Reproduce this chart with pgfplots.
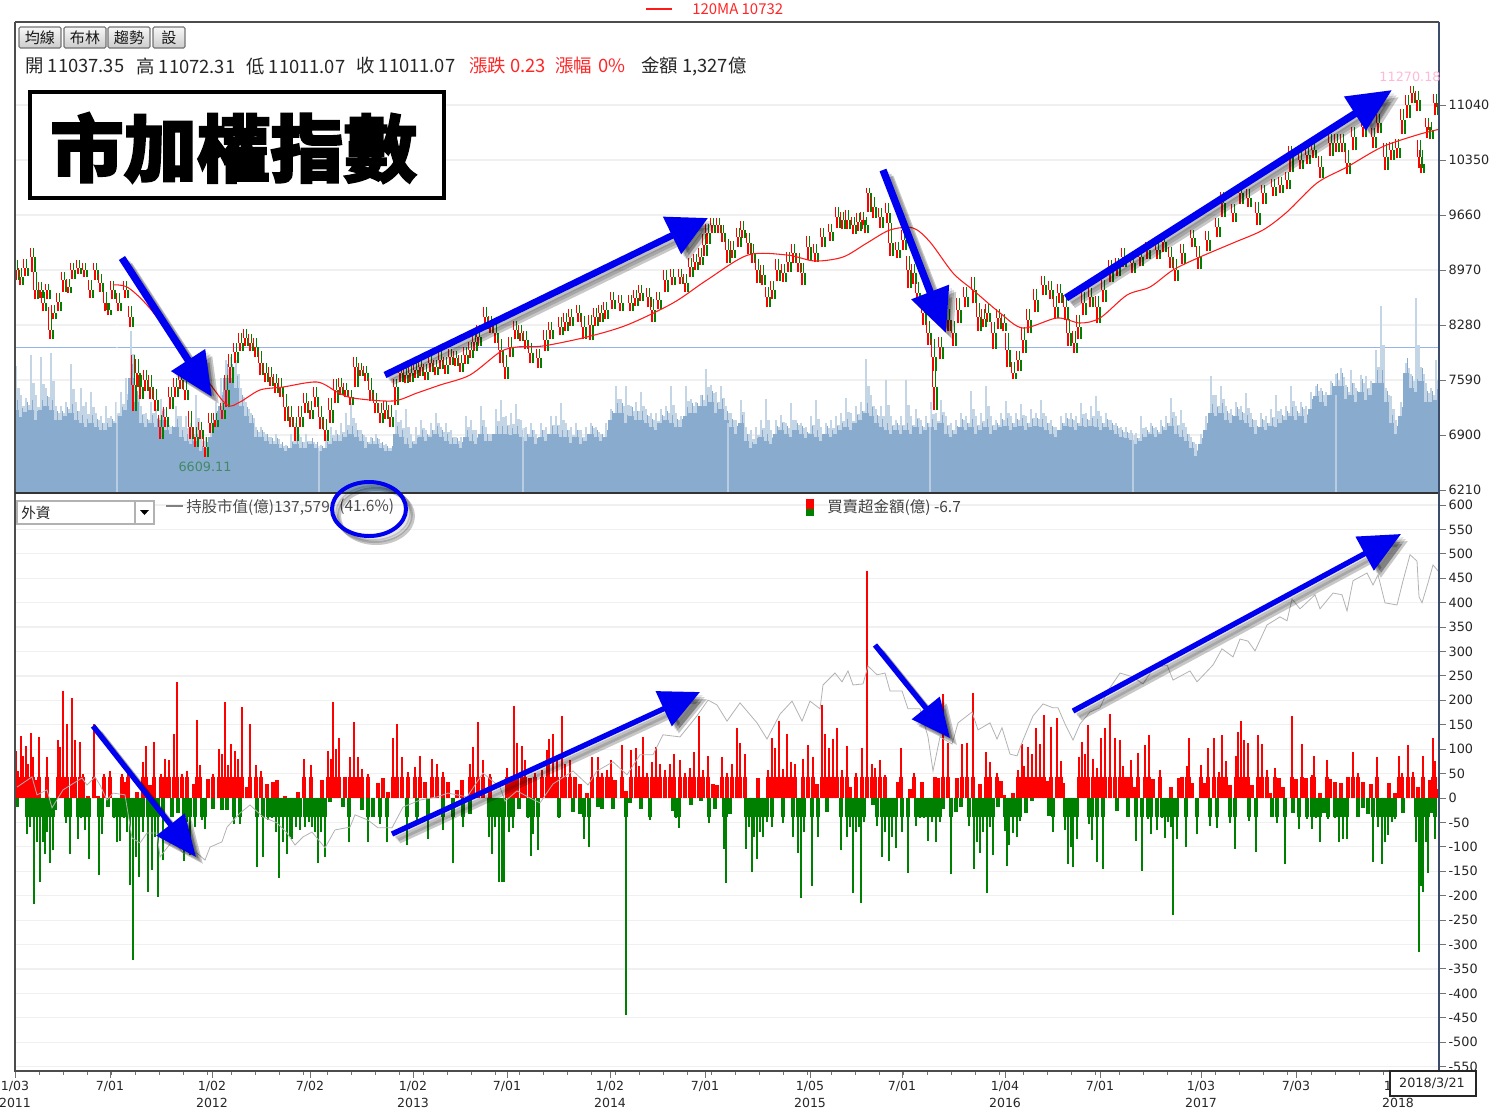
\documentclass[border=0pt]{standalone}
\usepackage{fontspec}
\usepackage{pgfplots}
\usepackage{pgfplotstable}
\pgfplotsset{compat=1.18}
\usetikzlibrary{arrows.meta,shadings}
\setmainfont{DejaVu Sans}
\newfontfamily\cjk{Noto Sans CJK TC}
\newfontfamily\cjkt[BoldFeatures={FakeBold=2.5}]{Noto Sans CJK TC}
\definecolor{gridc}{RGB}{240,240,240}
\definecolor{volcore}{RGB}{137,172,206}
\definecolor{volspike}{RGB}{196,214,230}
\definecolor{upred}{RGB}{255,0,0}
\definecolor{downgreen}{RGB}{0,128,0}
\definecolor{marrow}{RGB}{0,0,240}
\definecolor{navyaxis}{RGB}{60,76,108}
\definecolor{refline}{RGB}{150,180,235}
\definecolor{peakpink}{RGB}{255,185,215}

% price candles: x, low, mid, high
\pgfplotstableread[row sep=\\]{
x lo mid hi\\
16 8850 8970 9090\\ 20 8780 8880 8990\\ 25 8900 9000 9110\\ 32 8950 9130 9240\\ 35 8600 8720 8950\\ 40 8620 8720 8820\\ 43 8450 8560 8700\\ 47 8600 8720 8800\\
50 8100 8220 8500\\ 53 8350 8430 8530\\ 58 8450 8570 8680\\ 63 8700 8850 8950\\ 68 8680 8760 8860\\ 72 8860 8970 9060\\ 78 8920 9000 9090\\ 84 8880 8970 9060\\
90 8620 8720 8850\\ 95 8850 8970 9060\\ 100 8700 8810 8920\\ 105 8450 8560 8700\\ 108 8400 8470 8560\\ 112 8600 8720 8830\\ 118 8450 8560 8680\\ 125 8620 8720 8830\\
130 8250 8380 8520\\ 133 7200 7530 7900\\ 137 7500 7680 7850\\ 140 7350 7500 7650\\ 145 7450 7590 7720\\ 150 7350 7500 7650\\ 155 7200 7340 7480\\ 160 6850 7000 7150\\
165 7000 7130 7250\\ 170 7230 7380 7500\\ 175 7380 7500 7620\\ 180 7480 7590 7700\\ 185 7340 7470 7580\\ 190 6850 7000 7200\\ 195 6750 6880 7000\\ 200 6850 6960 7060\\
205 6620 6750 6880\\ 210 6920 7050 7170\\ 215 7000 7090 7180\\ 222 7100 7210 7300\\ 226 7250 7470 7650\\ 230 7550 7750 7920\\ 235 7800 7940 8060\\ 240 7950 8050 8180\\
245 8020 8120 8230\\ 250 7950 8050 8170\\ 255 7880 8000 8120\\ 260 7650 7800 7960\\ 265 7560 7680 7800\\ 270 7520 7630 7750\\ 275 7430 7550 7660\\ 280 7380 7500 7620\\
285 7080 7250 7420\\ 290 7000 7130 7260\\ 295 6830 7000 7120\\ 300 7000 7130 7260\\ 305 7180 7300 7430\\ 310 7100 7210 7330\\ 315 7250 7380 7500\\ 320 6980 7130 7270\\
325 6820 6960 7100\\ 330 7050 7210 7370\\ 335 7300 7470 7600\\ 340 7400 7500 7610\\ 345 7380 7470 7550\\ 350 7280 7380 7460\\ 355 7500 7750 7880\\ 360 7640 7720 7800\\
365 7580 7680 7770\\ 370 7330 7470 7610\\ 375 7170 7300 7430\\ 380 7050 7180 7300\\ 385 7100 7210 7330\\ 390 7000 7130 7280\\ 395 7280 7500 7600\\ 400 7560 7680 7770\\
405 7550 7650 7750\\ 410 7570 7680 7780\\ 415 7620 7720 7810\\ 420 7640 7750 7850\\ 425 7590 7690 7790\\ 430 7690 7800 7900\\ 435 7650 7750 7840\\ 440 7730 7840 7950\\
445 7670 7780 7880\\ 450 7780 7880 7980\\ 455 7760 7860 7960\\ 460 7690 7800 7900\\ 465 7790 7900 8010\\ 470 7860 7970 8070\\ 474 7960 8070 8170\\ 478 8020 8130 8280\\
485 8230 8380 8500\\ 490 8180 8280 8390\\ 495 8050 8180 8300\\ 500 7800 7970 8100\\ 505 7600 7750 7900\\ 510 7880 8000 8130\\ 515 8100 8220 8330\\ 520 8080 8180 8280\\
525 7980 8090 8200\\ 530 7800 7930 8050\\ 538 7740 7870 7980\\ 545 7950 8090 8220\\ 550 8100 8220 8320\\ 560 8150 8260 8380\\ 565 8210 8320 8430\\ 570 8270 8380 8480\\
578 8320 8430 8530\\ 583 8100 8260 8390\\ 590 8090 8280 8400\\ 595 8270 8380 8490\\ 600 8320 8430 8530\\ 605 8360 8470 8570\\ 612 8480 8590 8700\\ 620 8450 8560 8660\\
630 8460 8560 8660\\ 635 8520 8620 8720\\ 640 8580 8680 8780\\ 648 8500 8630 8740\\ 652 8320 8470 8600\\ 658 8480 8590 8700\\ 665 8700 8850 8970\\ 672 8780 8880 8980\\
680 8790 8880 8980\\ 685 8700 8810 8920\\ 690 8880 9010 9120\\ 695 8970 9070 9170\\ 700 9030 9130 9240\\ 704 9150 9280 9420\\ 707 9300 9430 9550\\ 712 9430 9530 9620\\
718 9440 9530 9620\\ 722 9320 9430 9540\\ 727 9060 9220 9360\\ 732 9120 9220 9330\\ 738 9260 9380 9500\\ 742 9370 9470 9580\\ 748 9170 9310 9430\\ 752 9060 9180 9300\\
757 8810 8970 9110\\ 762 8780 8910 9030\\ 767 8500 8630 8760\\ 772 8600 8720 8830\\ 777 8830 8970 9110\\ 783 8820 8930 9050\\ 788 8950 9070 9190\\ 793 9060 9180 9300\\
798 8950 9060 9180\\ 802 8780 8930 9060\\ 808 9100 9260 9400\\ 815 9070 9180 9300\\ 822 9260 9380 9500\\ 830 9340 9450 9550\\ 837 9500 9630 9760\\ 842 9480 9600 9700\\
847 9490 9600 9720\\ 853 9420 9530 9640\\ 858 9460 9570 9680\\ 862 9490 9600 9700\\ 865 9430 9530 9640\\ 868 9700 9940 10000\\ 873 9620 9760 9880\\ 880 9500 9630 9750\\
887 9560 9690 9810\\ 890 9150 9310 9560\\ 897 9120 9220 9320\\ 903 9220 9350 9470\\ 908 8740 8970 9150\\ 913 8800 8930 9050\\ 917 8540 8680 8820\\ 923 8280 8430 8570\\
928 8030 8180 8330\\ 933 7700 7880 8100\\ 934 7214 7500 7700\\ 940 7850 8000 8130\\ 948 8200 8340 8480\\ 953 8020 8180 8330\\ 958 8300 8470 8620\\ 965 8500 8630 8760\\
973 8550 8720 8880\\ 978 8200 8380 8560\\ 983 8250 8360 8480\\ 987 8320 8430 8540\\ 993 7980 8180 8320\\ 998 8230 8370 8480\\ 1003 8200 8310 8420\\ 1007 7750 7970 8180\\
1013 7600 7680 7820\\ 1018 7700 7840 7960\\ 1023 7930 8090 8250\\ 1028 8180 8340 8480\\ 1035 8440 8590 8730\\ 1043 8660 8780 8900\\ 1050 8600 8720 8830\\ 1055 8370 8510 8640\\
1059 8560 8680 8800\\ 1065 8340 8510 8660\\ 1068 8020 8180 8360\\ 1074 7930 8050 8200\\ 1078 8100 8260 8400\\ 1083 8400 8560 8700\\ 1090 8500 8630 8750\\ 1097 8300 8510 8650\\
1103 8570 8720 8850\\ 1110 8820 8970 9100\\ 1117 8890 9010 9120\\ 1123 9010 9130 9240\\ 1132 8930 9060 9170\\ 1140 9020 9130 9240\\ 1147 9110 9220 9320\\ 1157 9110 9220 9330\\
1163 9190 9320 9430\\ 1170 8990 9130 9260\\ 1175 8830 8970 9110\\ 1182 9050 9180 9300\\ 1192 9260 9370 9470\\ 1198 8980 9130 9270\\ 1207 9210 9350 9460\\ 1217 9390 9510 9620\\
1222 9640 9810 9950\\ 1233 9570 9690 9800\\ 1240 9800 9940 10050\\ 1248 9760 9870 9980\\ 1257 9540 9690 9820\\ 1263 9800 9940 10040\\ 1273 9900 10010 10110\\ 1280 9930 10040 10140\\
1287 9980 10100 10200\\ 1290 10200 10390 10520\\ 1300 10240 10350 10450\\ 1307 10300 10410 10520\\ 1313 10370 10480 10590\\ 1320 10130 10260 10400\\ 1330 10400 10560 10680\\ 1336 10450 10560 10670\\
1342 10450 10560 10670\\ 1347 10170 10310 10470\\ 1353 10470 10640 10770\\ 1363 10640 10760 10880\\ 1373 10500 10640 10750\\ 1378 10690 10810 10930\\ 1385 10230 10390 10560\\ 1391 10350 10470 10580\\
1397 10380 10500 10610\\ 1402 10680 10850 10990\\ 1407 10880 11040 11160\\ 1412 11060 11190 11280\\ 1417 10970 11100 11210\\ 1419 10250 10390 10600\\ 1421 10190 10300 10480\\ 1427 10620 10760 10880\\
1430 10610 10730 10830\\ 1435 10920 11070 11180\\ 1438 10950 11010 11070\\
}\candles

% 120-day moving average
\pgfplotstableread[row sep=\\]{
x ma\\
113 8782\\ 127 8757\\ 147 8531\\ 183 7966\\ 207 7590\\ 227 7276\\ 240 7314\\ 260 7465\\ 283 7502\\ 317 7565\\ 337 7440\\ 353 7364\\ 393 7327\\ 417 7427\\ 440 7527\\ 470 7653\\ 500 7941\\ 517 8004\\ 543 8017\\ 587 8130\\ 627 8280\\ 673 8556\\ 707 8845\\ 748 9158\\ 787 9158\\ 815 9083\\ 843 9133\\ 867 9309\\ 890 9472\\ 913 9497\\ 930 9321\\ 953 8932\\ 973 8719\\ 1000 8431\\ 1023 8242\\ 1057 8368\\ 1080 8305\\ 1100 8368\\ 1127 8656\\ 1150 8757\\ 1173 8970\\ 1200 9133\\ 1233 9309\\ 1263 9472\\ 1287 9698\\ 1317 10062\\ 1347 10262\\ 1382 10513\\ 1417 10664\\ 1438 10732\\
}\matable

% turnover: x, dense body, top of the spike
\pgfplotstableread[row sep=\\]{
x core top\\
16 1190 1820\\ 21 1080 1400\\ 26 1160 1360\\ 31 1190 1970\\ 36 1050 1400\\ 41 1190 1940\\ 46 1240 1500\\ 51 1190 2000\\ 56 1050 1250\\ 61 1050 1250\\ 66 1100 1300\\ 71 1140 1840\\ 76 1050 1300\\ 81 1000 1500\\ 86 950 1300\\ 91 1000 1450\\ 96 950 1150\\ 101 900 1100\\ 106 900 1250\\ 111 950 1100\\ 116 1000 1300\\ 121 1100 1450\\ 126 1190 1650\\ 131 1650 2320\\ 136 1300 1500\\ 141 1000 1250\\ 146 950 1150\\ 151 1000 1300\\ 156 950 1200\\ 161 1050 1350\\ 166 900 1050\\ 171 850 950\\ 176 950 1250\\ 181 800 1100\\ 186 750 1100\\ 191 700 1000\\ 196 750 1400\\ 201 600 900\\ 206 650 800\\ 211 800 1000\\ 216 1050 1300\\ 221 1250 1650\\ 226 1650 1900\\ 231 1650 1950\\ 236 1500 1900\\ 241 1250 1500\\ 246 1100 1300\\ 251 1000 1150\\ 256 800 950\\ 261 800 950\\ 266 750 850\\ 271 700 800\\ 276 700 850\\ 281 650 700\\ 286 600 680\\ 291 650 850\\ 296 700 1000\\ 301 650 800\\ 306 650 850\\ 311 700 750\\ 316 650 700\\ 321 600 680\\ 326 650 850\\ 331 700 950\\ 336 750 900\\ 341 750 1000\\ 346 800 1150\\ 351 850 1290\\ 356 800 1000\\ 361 750 900\\ 366 650 800\\ 371 700 800\\ 376 700 850\\ 381 650 720\\ 386 600 700\\ 391 600 650\\ 396 850 1180\\ 401 800 1050\\ 406 700 1200\\ 411 650 850\\ 416 700 950\\ 421 800 1050\\ 426 750 900\\ 431 800 1000\\ 436 850 1150\\ 441 800 950\\ 446 750 1000\\ 451 700 900\\ 456 700 800\\ 461 650 800\\ 466 800 1100\\ 471 750 1050\\ 476 700 900\\ 481 850 1250\\ 486 750 950\\ 491 750 850\\ 496 850 1200\\
501 850 1330\\ 506 850 1100\\ 511 830 1150\\ 516 850 1270\\ 521 800 1050\\ 526 750 950\\ 531 800 1000\\ 536 700 850\\ 541 800 1000\\ 546 750 950\\ 551 850 1100\\ 556 850 1100\\ 561 800 1290\\ 566 800 1000\\ 571 720 950\\ 576 800 1000\\ 581 700 900\\ 586 750 950\\ 591 850 1000\\ 596 800 950\\ 601 750 850\\ 606 800 1000\\ 611 1050 1200\\ 616 1150 1530\\ 621 1150 1350\\ 626 1000 1530\\ 631 1100 1250\\ 636 1050 1300\\ 641 1050 1450\\ 646 1000 1200\\ 651 950 1150\\ 656 900 1150\\ 661 1000 1200\\ 666 1050 1250\\ 671 1000 1530\\ 676 950 1150\\ 681 950 1100\\ 686 1100 1530\\ 691 1150 1350\\ 696 1150 1300\\ 701 1250 1400\\ 706 1250 1770\\ 711 1300 1550\\ 716 1150 1450\\ 721 1200 1530\\ 726 1050 1250\\ 731 950 1150\\ 736 850 1050\\ 741 1000 1330\\ 746 750 950\\ 751 650 900\\ 756 700 950\\ 761 800 1050\\ 766 750 1350\\ 771 700 900\\ 776 850 1050\\ 781 900 1120\\ 786 850 1000\\ 791 800 1290\\ 796 900 1050\\ 801 850 1000\\ 806 780 950\\ 811 850 1100\\ 816 800 1330\\ 821 750 950\\ 826 850 1000\\ 831 800 1050\\ 836 850 1100\\ 841 900 1150\\ 846 950 1360\\ 851 900 1150\\ 856 1000 1250\\ 861 1050 1300\\ 866 1150 1920\\ 871 1100 1400\\ 876 1000 1200\\ 881 950 1250\\ 886 900 1620\\ 891 850 1100\\ 896 900 1050\\ 901 850 1100\\ 906 900 1620\\ 911 850 1100\\ 916 950 1200\\ 921 850 1050\\ 926 900 1100\\ 931 950 1300\\ 936 900 1150\\ 941 1000 1330\\ 946 850 1100\\ 951 800 1000\\ 956 850 1050\\ 961 950 1150\\ 966 900 1100\\ 971 950 1460\\ 976 850 1100\\ 981 900 1150\\ 986 950 1530\\ 991 850 1100\\ 996 900 1050\\
1001 950 1150\\ 1006 960 1320\\ 1011 900 1100\\ 1016 950 1150\\ 1021 960 1270\\ 1026 900 1100\\ 1031 950 1200\\ 1036 960 1150\\ 1041 950 1330\\ 1046 900 1100\\ 1051 850 1050\\ 1056 800 950\\ 1061 900 1100\\ 1066 960 1150\\ 1071 950 1150\\ 1076 900 1100\\ 1081 960 1290\\ 1086 950 1150\\ 1091 960 1250\\ 1096 950 1390\\ 1101 900 1100\\ 1106 950 1140\\ 1111 900 1050\\ 1116 850 1000\\ 1121 800 950\\ 1126 780 950\\ 1131 760 900\\ 1136 700 860\\ 1141 750 1100\\ 1146 800 950\\ 1151 850 1000\\ 1156 800 950\\ 1161 850 1050\\ 1166 900 1100\\ 1171 960 1360\\ 1176 850 1100\\ 1181 800 1190\\ 1186 750 950\\ 1191 650 800\\ 1196 530 700\\ 1201 700 850\\ 1206 900 1100\\ 1211 1140 1670\\ 1216 1100 1400\\ 1221 1150 1530\\ 1226 1050 1250\\ 1231 1000 1200\\ 1236 1100 1300\\ 1241 1040 1250\\ 1246 1000 1430\\ 1251 950 1150\\ 1256 850 1050\\ 1261 950 1150\\ 1266 900 1100\\ 1271 960 1200\\ 1276 950 1400\\ 1281 1000 1200\\ 1286 1050 1250\\ 1291 1100 1530\\ 1296 1050 1250\\ 1301 1100 1300\\ 1306 1000 1250\\ 1311 1200 1450\\ 1316 1390 1530\\ 1321 1300 1500\\ 1326 1250 1450\\ 1331 1400 1600\\ 1336 1530 1700\\ 1341 1530 1790\\ 1346 1350 1550\\ 1351 1400 1760\\ 1356 1300 1500\\ 1361 1450 1690\\ 1366 1330 1670\\ 1371 1400 1600\\ 1376 1570 2040\\ 1381 1570 2670\\ 1386 1300 1500\\ 1391 1000 1390\\ 1396 850 1050\\ 1401 1100 1300\\ 1406 1720 1860\\ 1411 1500 1700\\ 1416 1450 2790\\ 1421 1600 1800\\ 1426 1300 1570\\ 1431 1300 1500\\ 1436 1327 1900\\
}\voltable

% foreign net buy / sell
\pgfplotstableread[row sep=\\]{
x v\\
16 97\\ 18 56\\ 21 126\\ 23 87\\ 26 107\\ 28 70\\ 31 133\\ 33 84\\ 37 36\\ 39 125\\ 47 84\\ 58 118\\ 60 105\\ 63 220\\ 67 152\\ 72 205\\ 75 118\\ 80 114\\ 83 50\\ 88 5\\ 94 152\\ 98 5\\ 104 50\\ 110 56\\ 122 50\\ 125 33\\ 128 63\\ 137 12\\ 143 73\\ 146 107\\ 150 26\\ 154 114\\ 161 50\\ 165 80\\ 169 77\\ 174 131\\ 177 238\\ 182 50\\ 187 56\\ 194 29\\ 197 159\\ 200 67\\ 208 39\\ 213 50\\ 219 100\\ 222 90\\ 225 197\\ 228 67\\ 231 110\\ 235 97\\ 238 80\\ 242 186\\ 247 23\\ 250 152\\ 256 67\\ 261 56\\ 267 29\\ 273 33\\ 277 36\\ 285 5\\ 298 12\\ 304 80\\ 311 67\\ 322 36\\ 328 97\\ 331 80\\ 333 197\\ 336 100\\ 339 122\\ 345 43\\ 350 84\\ 354 156\\ 358 84\\ 362 60\\ 368 50\\ 378 31\\ 383 40\\ 388 12\\ 393 122\\ 397 152\\ 402 84\\ 408 53\\ 415 63\\ 420 85\\ 425 33\\ 432 80\\ 437 70\\ 443 53\\ 448 33\\ 457 16\\ 462 36\\ 470 70\\ 473 104\\ 478 156\\ 483 77\\ 490 50\\
507 62\\ 511 40\\ 514 189\\ 517 113\\ 522 106\\ 525 77\\ 530 40\\ 535 51\\ 542 58\\ 547 99\\ 549 121\\ 553 132\\ 557 80\\ 562 168\\ 565 69\\ 570 77\\ 575 44\\ 580 29\\ 587 11\\ 592 84\\ 598 84\\ 602 51\\ 607 58\\ 611 77\\ 615 37\\ 622 108\\ 626 15\\ 631 99\\ 636 102\\ 639 66\\ 643 124\\ 647 51\\ 652 73\\ 656 104\\ 660 69\\ 665 58\\ 670 69\\ 674 91\\ 680 77\\ 685 51\\ 690 62\\ 694 95\\ 699 168\\ 703 58\\ 708 86\\ 713 29\\ 717 26\\ 722 84\\ 727 51\\ 732 69\\ 737 143\\ 740 113\\ 745 91\\ 758 40\\ 768 58\\ 772 123\\ 775 102\\ 779 157\\ 783 60\\ 787 132\\ 791 73\\ 795 69\\ 803 80\\ 808 108\\ 813 84\\ 817 29\\ 822 190\\ 825 132\\ 829 102\\ 833 121\\ 837 143\\ 842 58\\ 847 106\\ 850 22\\ 856 51\\ 862 102\\ 867 464\\ 872 69\\ 875 62\\ 880 77\\ 885 47\\ 898 33\\ 901 102\\ 910 18\\ 914 51\\ 922 33\\ 935 42\\ 938 40\\ 943 213\\ 948 113\\ 957 40\\ 962 110\\ 967 113\\ 973 216\\ 980 29\\ 986 95\\ 990 73\\ 997 51\\
1001 34\\ 1004 6\\ 1013 10\\ 1018 58\\ 1022 111\\ 1024 66\\ 1028 105\\ 1032 91\\ 1036 144\\ 1040 111\\ 1044 170\\ 1048 34\\ 1051 146\\ 1057 164\\ 1061 75\\ 1063 30\\ 1079 83\\ 1082 114\\ 1085 91\\ 1088 149\\ 1093 79\\ 1097 62\\ 1101 123\\ 1105 144\\ 1110 171\\ 1115 122\\ 1120 119\\ 1123 66\\ 1127 42\\ 1131 77\\ 1135 22\\ 1138 93\\ 1145 109\\ 1149 130\\ 1153 38\\ 1160 58\\ 1171 22\\ 1179 40\\ 1182 44\\ 1187 65\\ 1189 123\\ 1192 30\\ 1201 68\\ 1205 30\\ 1208 103\\ 1214 122\\ 1219 54\\ 1222 129\\ 1226 75\\ 1230 26\\ 1236 85\\ 1238 136\\ 1241 158\\ 1244 119\\ 1248 113\\ 1252 26\\ 1258 129\\ 1262 111\\ 1267 58\\ 1270 10\\ 1275 61\\ 1279 40\\ 1283 22\\ 1292 168\\ 1296 38\\ 1302 110\\ 1306 41\\ 1312 48\\ 1314 85\\ 1320 10\\ 1327 77\\ 1330 38\\ 1335 32\\ 1341 30\\ 1348 44\\ 1353 95\\ 1358 52\\ 1363 32\\ 1371 28\\ 1377 83\\ 1389 30\\ 1395 10\\ 1399 85\\ 1402 52\\ 1408 109\\ 1413 54\\ 1418 22\\ 1423 87\\ 1430 36\\ 1433 122\\ 1435 75\\ 1437 18\\
}\buytable
\pgfplotstableread[row sep=\\]{
x v\\
17 -18\\ 27 -73\\ 30 -60\\ 34 -216\\ 37 -90\\ 40 -172\\ 43 -90\\ 45 -114\\ 47 -70\\ 50 -134\\ 53 -107\\ 55 -25\\ 66 -52\\ 70 -114\\ 78 -83\\ 81 -40\\ 85 -66\\ 89 -124\\ 99 -158\\ 102 -73\\ 108 -18\\ 114 -40\\ 117 -90\\ 120 -87\\ 124 -40\\ 127 -70\\ 130 -179\\ 133 -331\\ 136 -120\\ 139 -162\\ 143 -70\\ 148 -192\\ 152 -148\\ 155 -80\\ 158 -203\\ 163 -127\\ 172 -39\\ 178 -30\\ 184 -128\\ 187 -50\\ 190 -117\\ 195 -59\\ 202 -46\\ 205 -63\\ 213 -22\\ 222 -25\\ 227 -25\\ 234 -53\\ 240 -53\\ 257 -141\\ 263 -121\\ 268 -46\\ 272 -40\\ 276 -70\\ 279 -164\\ 283 -90\\ 287 -114\\ 290 -80\\ 292 -83\\ 296 -60\\ 300 -66\\ 305 -59\\ 309 -50\\ 312 -60\\ 315 -70\\ 318 -134\\ 321 -70\\ 325 -120\\ 330 -8\\ 343 -18\\ 349 -90\\ 362 -25\\ 368 -90\\ 373 -39\\ 380 -53\\ 387 -90\\ 407 -97\\ 417 -46\\ 428 -83\\ 443 -66\\ 453 -134\\ 463 -59\\ 470 -32\\ 489 -80\\ 492 -114\\ 495 -60\\ 499 -172\\
502 -172\\ 504 -172\\ 509 -69\\ 513 -62\\ 519 -22\\ 528 -40\\ 531 -119\\ 533 -73\\ 538 -107\\ 559 -40\\ 573 -29\\ 580 -33\\ 584 -84\\ 589 -100\\ 598 -18\\ 602 -22\\ 613 -22\\ 626 -444\\ 630 -11\\ 641 -22\\ 650 -44\\ 673 -26\\ 676 -40\\ 679 -62\\ 691 -15\\ 701 -7\\ 709 -51\\ 715 -22\\ 724 -105\\ 726 -175\\ 730 -33\\ 746 -105\\ 749 -60\\ 752 -151\\ 754 -80\\ 757 -124\\ 760 -70\\ 763 -80\\ 767 -50\\ 772 -59\\ 783 -51\\ 793 -80\\ 798 -113\\ 801 -205\\ 804 -70\\ 812 -181\\ 818 -80\\ 827 -29\\ 841 -107\\ 847 -80\\ 850 -60\\ 853 -195\\ 856 -70\\ 859 -60\\ 861 -214\\ 864 -50\\ 873 -15\\ 877 -58\\ 882 -121\\ 885 -70\\ 889 -129\\ 892 -80\\ 896 -102\\ 902 -69\\ 908 -153\\ 916 -58\\ 920 -40\\ 924 -40\\ 928 -88\\ 932 -50\\ 936 -91\\ 940 -50\\ 943 -22\\ 951 -156\\ 956 -29\\ 961 -18\\ 969 -57\\ 974 -146\\ 977 -90\\ 980 -113\\ 983 -70\\ 987 -194\\ 990 -60\\ 993 -117\\ 998 -18\\
1005 -67\\ 1007 -139\\ 1009 -96\\ 1013 -71\\ 1017 -80\\ 1020 -47\\ 1026 -31\\ 1032 -6\\ 1049 -37\\ 1053 -69\\ 1065 -66\\ 1068 -136\\ 1071 -100\\ 1073 -142\\ 1077 -84\\ 1089 -53\\ 1092 -85\\ 1097 -130\\ 1103 -146\\ 1117 -27\\ 1128 -39\\ 1136 -88\\ 1142 -149\\ 1148 -43\\ 1151 -74\\ 1157 -66\\ 1162 -40\\ 1165 -81\\ 1168 -50\\ 1171 -59\\ 1173 -240\\ 1177 -84\\ 1186 -100\\ 1197 -74\\ 1210 -58\\ 1217 -61\\ 1230 -51\\ 1235 -104\\ 1249 -47\\ 1256 -110\\ 1272 -39\\ 1277 -51\\ 1285 -136\\ 1293 -31\\ 1299 -63\\ 1307 -43\\ 1312 -63\\ 1316 -40\\ 1320 -90\\ 1324 -30\\ 1328 -43\\ 1335 -40\\ 1339 -90\\ 1343 -84\\ 1347 -84\\ 1358 -39\\ 1363 -20\\ 1368 -33\\ 1373 -132\\ 1378 -60\\ 1382 -136\\ 1385 -90\\ 1388 -76\\ 1392 -50\\ 1395 -43\\ 1403 -31\\ 1416 -90\\ 1419 -315\\ 1421 -180\\ 1423 -193\\ 1426 -90\\ 1428 -154\\ 1431 -30\\ 1435 -84\\
}\selltable

% foreign holdings, hundreds of 億
\pgfplotstableread[row sep=\\]{
x h\\
17 760\\ 32 789\\ 37 738\\ 47 752\\ 52 701\\ 63 752\\ 82 786\\ 87 766\\ 95 789\\ 100 766\\ 107 723\\ 113 743\\ 125 738\\ 132 615\\ 140 601\\ 147 629\\ 157 629\\ 160 561\\ 173 609\\ 183 572\\ 197 572\\ 205 552\\ 210 589\\ 222 604\\ 227 646\\ 240 686\\ 250 709\\ 263 675\\ 277 658\\ 287 629\\ 295 595\\ 303 618\\ 312 632\\ 325 587\\ 335 638\\ 350 646\\ 355 681\\ 368 666\\ 378 644\\ 392 644\\ 403 703\\ 420 723\\ 437 732\\ 448 743\\ 467 732\\ 483 800\\ 500 760\\ 505 720\\ 517 749\\ 530 729\\ 540 715\\ 553 769\\ 573 806\\ 588 766\\ 597 806\\ 613 832\\ 627 795\\ 640 852\\ 653 852\\ 663 909\\ 680 903\\ 697 963\\ 708 1008\\ 717 994\\ 727 948\\ 740 1000\\ 757 943\\ 767 897\\ 780 968\\ 792 1005\\ 802 948\\ 810 1005\\ 820 983\\ 823 1051\\ 835 1085\\ 842 1060\\ 848 1091\\ 853 1051\\ 863 1054\\ 868 1105\\ 877 1080\\ 885 1085\\ 890 1034\\ 902 1034\\ 908 983\\ 920 983\\ 928 903\\ 933 806\\ 940 903\\ 952 883\\ 958 943\\ 972 974\\ 978 923\\ 990 943\\ 997 897\\ 1002 929\\ 1010 854\\ 1017 849\\ 1023 894\\ 1033 963\\ 1043 997\\ 1053 986\\ 1058 986\\ 1065 940\\ 1073 894\\ 1080 940\\ 1090 974\\ 1100 986\\ 1107 1031\\ 1120 1085\\ 1133 1074\\ 1143 1054\\ 1153 1097\\ 1167 1108\\ 1173 1065\\ 1190 1091\\ 1197 1060\\ 1213 1108\\ 1222 1154\\ 1233 1131\\ 1240 1182\\ 1248 1176\\ 1255 1148\\ 1267 1222\\ 1280 1245\\ 1287 1234\\ 1292 1296\\ 1300 1268\\ 1315 1308\\ 1320 1268\\ 1333 1313\\ 1342 1308\\ 1347 1262\\ 1353 1348\\ 1367 1370\\ 1373 1336\\ 1378 1365\\ 1385 1285\\ 1397 1279\\ 1403 1348\\ 1410 1422\\ 1417 1404\\ 1419 1302\\ 1422 1285\\ 1428 1342\\ 1433 1393\\ 1438 1376\\
}\holdtable

\pgfplotsset{
  panel/.style={scale only axis,width=1068pt,xmin=15,xmax=1439},
  toppanel/.style={panel,height=353.25pt,at={(11.25pt,-369.75pt)},anchor=south west},
  botpanel/.style={panel,height=433.5pt,at={(11.25pt,-803.25pt)},anchor=south west},
  ticksty/.style={axis line style={draw=none},tick align=outside,major tick length=5pt,minor tick length=3pt,
    tick style={color=black!55,line width=0.7pt},
    ymajorgrids,grid style={color=gridc,line width=0.9pt},
    ytick pos=right,yticklabel pos=right,scaled y ticks=false,
    yticklabel style={font=\fontsize{9.6}{11}\selectfont,color=black!85,inner sep=0pt,xshift=2pt},
    /pgf/number format/assume math mode=true,/pgf/number format/1000 sep={}},
  bodies/.style={draw=none,mark=none,error bars/.cd,y dir=plus,y explicit,error mark=none,
    error bar style={color=#1,line width=1.4pt}},
}

% arrow: x0,y0,x1,y1 in image pixels, shaft, head length, head width
\newcommand{\bigarrow}[7]{%
  \foreach \s/\o in {3/0.10,5/0.16,7/0.22}{%
    \draw[line width=#5,color=black,opacity=\o,-{Triangle[length=#6,width=#7]}] (#1+\s,#2+\s) -- (#3+\s,#4+\s);}
  \draw[line width=#5,color=marrow,-{Triangle[length=#6,width=#7]}] (#1,#2) -- (#3,#4);}
\newcommand{\uibutton}[5]{%
  \draw[draw=black!55,rounded corners=1pt,top color=black!3,bottom color=black!20,line width=0.8pt] (#1,#2) rectangle (#3,#4);
  \node[font=\cjk\fontsize{11.3}{13}\selectfont,inner sep=0pt,color=black!90] at ({(#1+#3)/2},{(#2+#4)/2}) {#5};}

\begin{document}
\begin{tikzpicture}
\useasboundingbox (0,0) rectangle (1125.75pt,-833.25pt);

% ---- upper panel: grid and price scale
\begin{axis}[toppanel,ticksty,ymin=6172.5,ymax=12081,xtick=\empty,
  ytick={6210,6900,7590,8280,8970,9660,10350,11040}]
\addplot[color=refline,line width=0.8pt] coordinates {(15,8000) (1439,8000)};
\end{axis}

% ---- turnover
\begin{axis}[toppanel,hide axis,ymin=0,ymax=6735]
\addplot[ycomb,no markers,color=volspike,line width=1.6pt] table[x=x,y=top] {\voltable};
\addplot[ycomb,no markers,color=volspike,line width=1.6pt] table[x expr=\thisrow{x}+2.5,y expr={(\thisrow{top}+\thisrow{core})/2}] {\voltable};
\addplot[ycomb,no markers,color=volcore,line width=3.8pt] table[x=x,y=core] {\voltable};
\addplot[ycomb,no markers,color=volcore,line width=1.1pt] table[x expr=\thisrow{x}+1.5,y expr={\thisrow{core}*1.12}] {\voltable};
\addplot[ycomb,no markers,color=white,opacity=0.4,line width=0.8pt] coordinates {(117,2400) (319,1000) (523,1000) (728,1000) (930,1200) (1133,1000) (1336,1400)};
\end{axis}

% ---- candles and moving average
\begin{axis}[toppanel,hide axis,ymin=6172.5,ymax=12081]
\addplot[bodies=upred] table[x=x,y=lo,y error plus expr=\thisrow{mid}-\thisrow{lo}] {\candles};
\addplot[bodies=downgreen] table[x expr=\thisrow{x}+1.5,y=mid,y error plus expr=\thisrow{hi}-\thisrow{mid}] {\candles};
\addplot[bodies=downgreen] table[x expr=\thisrow{x}+3,y=lo,y error plus expr=\thisrow{mid}-\thisrow{lo}] {\candles};
\addplot[bodies=upred] table[x expr=\thisrow{x}-1.5,y=mid,y error plus expr=\thisrow{hi}-\thisrow{mid}] {\candles};
\addplot[no markers,smooth,tension=0.5,color=red!90!white,line width=0.8pt] table[x=x,y=ma] {\matable};
\end{axis}

% ---- lower panel: grid, scale, dates
\begin{axis}[botpanel,ticksty,ymin=-559,ymax=624.5,
  ytick={-550,-500,-450,-400,-350,-300,-250,-200,-150,-100,-50,0,50,100,150,200,250,300,350,400,450,500,550,600},
  xtick pos=bottom,
  xtick={15,110,212,310,413,507,610,705,810,902,1005,1100,1201,1296,1398},
  minor xtick={39,63,...,1439},
  xticklabels={{1/03\\2011},{7/01},{1/02\\2012},{7/02},{1/02\\2013},{7/01},{1/02\\2014},{7/01},{1/05\\2015},{7/01},{1/04\\2016},{7/01},{1/03\\2017},{7/03},{1/02\\2018}},
  xticklabel style={align=center,font=\fontsize{9.4}{12.6}\selectfont,color=black!85,inner sep=0pt,yshift=-2.5pt}]
\addplot[ycomb,no markers,color=upred,line width=3.4pt] table[x=x,y expr={min(\thisrow{v},42)}] {\buytable};
\addplot[ycomb,no markers,color=downgreen,line width=3.4pt] table[x=x,y expr={max(\thisrow{v},-38)}] {\selltable};
\addplot[ycomb,no markers,color=upred,line width=2pt] table[x=x,y=v] {\buytable};
\addplot[ycomb,no markers,color=downgreen,line width=2pt] table[x=x,y=v] {\selltable};
\end{axis}

% ---- holdings line
\begin{axis}[botpanel,hide axis,ymin=-49,ymax=1598]
\addplot[no markers,color=black!30,line width=0.6pt] table[x=x,y=h] {\holdtable};
\end{axis}

% ---- everything below is placed in image pixels
\begin{scope}[x=0.75pt,y=-0.75pt]
\draw[color=black!70,line width=1pt] (15,22) -- (1439,22);
\draw[color=black!70,line width=1pt] (15,22) -- (15,1071) -- (1439,1071);
\draw[color=black!80,line width=1.1pt] (15,493) -- (1439,493);
\draw[color=navyaxis,line width=1.2pt] (1439,22) -- (1439,1078);

% legend above
\draw[color=red!90!white,line width=0.8pt] (646,9) -- (672,9);
\node[anchor=west,inner sep=0pt,font=\cjk\fontsize{11.2}{13}\selectfont,color=red!85!white] at (692,9) {120MA 10732};

% toolbar
\uibutton{19}{27}{61}{48}{均線}
\uibutton{64}{27}{106}{48}{布林}
\uibutton{108}{27}{150}{48}{趨勢}
\uibutton{153}{27}{185}{48}{設}

% quote line
\begin{scope}[every node/.style={anchor=west,inner sep=0pt,font=\cjk\fontsize{13.8}{16}\selectfont}]
\node[color=black!85] at (25,66) {開 11037.35};
\node[color=black!85] at (136,66) {高 11072.31};
\node[color=black!85] at (246,66) {低 11011.07};
\node[color=black!85] at (356,66) {收 11011.07};
\node[color=red!85!white] at (469,66) {漲跌 0.23};
\node[color=red!85!white] at (555,66) {漲幅};
\node[color=red!85!white] at (598,66) {0\%};
\node[color=black!85] at (641,66) {金額 1,327億};
\end{scope}

% title box
\draw[fill=white,draw=black,line width=3pt] (30,92) rectangle (444,198);
\node[anchor=west,inner sep=0pt,font=\cjkt\bfseries\fontsize{55}{60}\selectfont] at (50,148) {市加權指數};

% value labels
\node[inner sep=0pt,font=\fontsize{9.6}{11}\selectfont,color=green!40!black,opacity=0.5] at (205,467) {6609.11};
\node[inner sep=0pt,font=\fontsize{9.6}{11}\selectfont,color=peakpink] at (1410,77) {11270.18};

% lower panel header
\draw[fill=white,draw=black!30,line width=0.8pt] (17,501) rectangle (154,524);
\draw[draw=black!30,line width=0.8pt] (135,501) -- (135,524);
\fill[black] (140,510) -- (149,510) -- (144.5,515) -- cycle;
\node[anchor=west,inner sep=0pt,font=\cjk\fontsize{11}{13}\selectfont,color=black!85] at (21,513) {外資};
\draw[color=black!50,line width=0.8pt] (166,506) -- (183,506);
\node[anchor=west,inner sep=0pt,font=\cjk\fontsize{11.6}{13}\selectfont,color=black!70] at (186,507) {持股市值(億)137,579};
\node[anchor=west,inner sep=0pt,font=\cjk\fontsize{11.6}{13}\selectfont,color=black!70] at (339,507) {(41.6\%)};
\fill[red] (806,499) rectangle (814,509);
\fill[downgreen] (806,509) rectangle (814,516);
\node[anchor=west,inner sep=0pt,font=\cjk\fontsize{11.6}{13}\selectfont,color=black!75] at (827,507) {買賣超金額(億) -6.7};

% drawn-on markup
\bigarrow{122}{258}{212}{397}{5.5pt}{33pt}{29pt}
\bigarrow{385}{375}{708}{218}{5pt}{30pt}{30pt}
\bigarrow{883}{170}{946}{333}{5.5pt}{33pt}{29pt}
\bigarrow{1066}{298}{1392}{90}{5.5pt}{33pt}{29pt}
\bigarrow{93}{726}{196}{857}{4pt}{31pt}{26pt}
\bigarrow{392}{834}{700}{692}{4pt}{30pt}{28pt}
\bigarrow{875}{645}{950}{738}{4pt}{29pt}{26pt}
\bigarrow{1073}{711}{1401}{534}{4pt}{31pt}{28pt}
\foreach \s/\o in {3/0.10,5/0.16,7/0.22}{\draw[color=black,opacity=\o,line width=3pt] (369+\s,509+\s) ellipse [x radius=37,y radius=27];}
\draw[color=marrow,line width=3pt] (369,509) ellipse [x radius=37,y radius=27];

% date cursor
\draw[fill=white,draw=black!85,line width=1pt] (1390,1071) rectangle (1476,1096);
\node[inner sep=0pt,font=\fontsize{9.6}{11}\selectfont,color=black!85] at (1432,1083) {2018/3/21};
\end{scope}
\end{tikzpicture}
\end{document}
